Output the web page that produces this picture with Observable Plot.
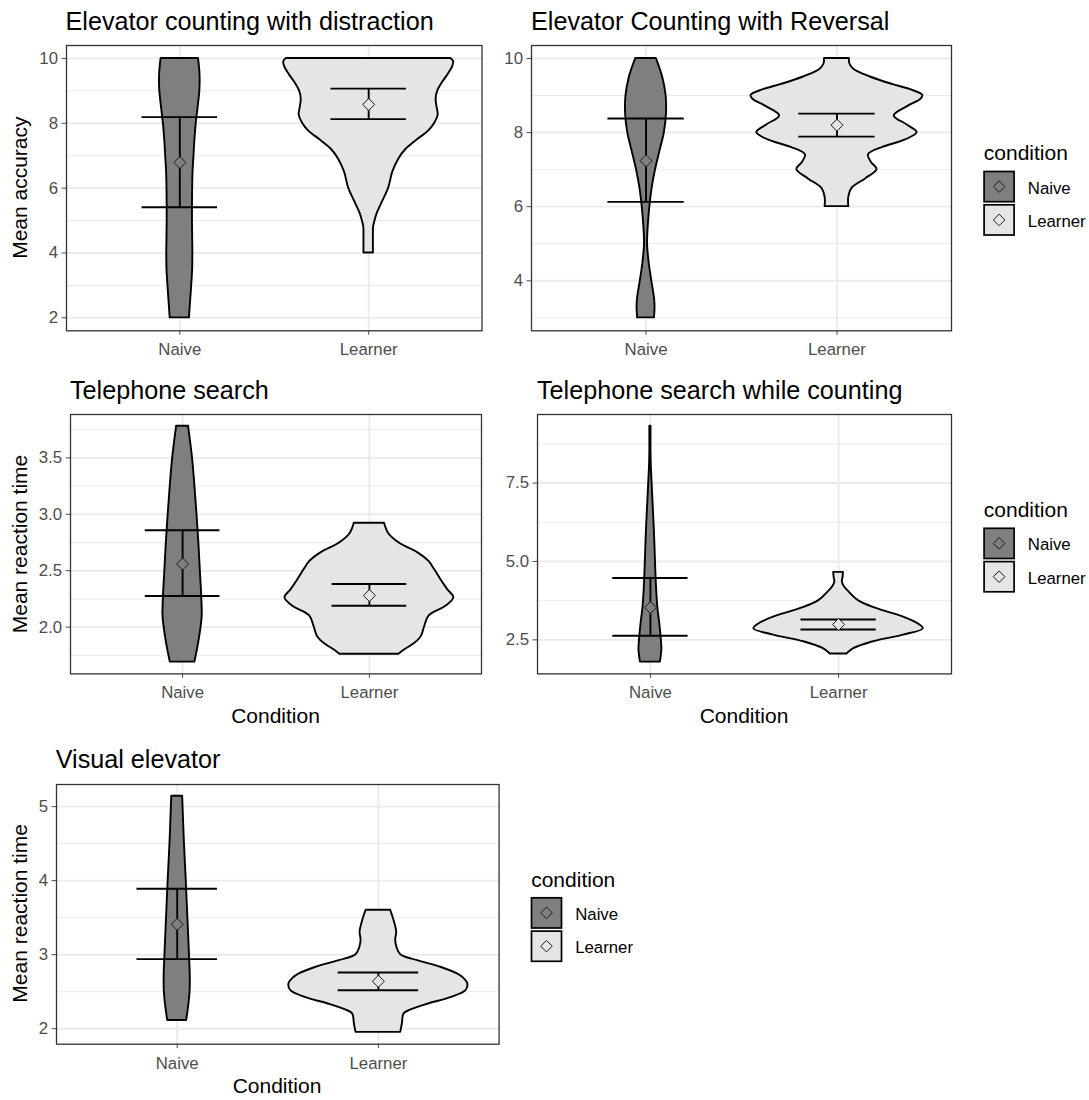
<!DOCTYPE html>
<html>
<head>
<meta charset="utf-8">
<script src="https://cdn.jsdelivr.net/npm/d3@7"></script>
<script src="https://cdn.jsdelivr.net/npm/@observablehq/plot@0.6"></script>
<style>
  html, body { margin: 0; padding: 0; background: #ffffff; }
  #root { position: relative; width: 1089px; height: 1100px; background: #ffffff; overflow: hidden;
          font-family: "Liberation Sans", Arial, sans-serif; }
</style>
</head>
<body>
<div id="root"></div>
<script>
// ---------------- data ----------------
const conditions = ["Naive", "Learner"];
const conditionFills = ["#7F7F7F", "#E5E5E5"];

// violin outlines: [value, half-width in category units]
const distractionNaive = [[2.0,.051],[2.5,.057],[3.0,.063],[3.5,.068],[4.0,.069],[4.5,.068],[5.0,.067],[5.5,.067],[6.0,.068],[6.5,.07],[7.0,.075],[7.5,.08],[8.0,.087],[8.5,.097],[9.0,.106],[9.5,.107],[10.0,.099]];
const distractionLearner = [[4.0,.025],[4.5,.025],[4.8,.026],[5.0,.034],[5.2,.044],[5.6,.075],[6.0,.106],[6.5,.128],[6.9,.16],[7.2,.198],[7.5,.26],[7.75,.316],[8.0,.35],[8.25,.368],[8.5,.362],[8.75,.357],[9.0,.366],[9.25,.39],[9.5,.42],[9.75,.445],[9.9,.45],[10.0,.436]];
const distractionMean = [6.79, 8.58];
const distractionLow = [5.41, 8.13];
const distractionHigh = [8.19, 9.07];

const reversalNaive = [[3.0,.044],[3.25,.047],[3.5,.045],[4.0,.03],[4.5,.016],[5.0,.008],[5.5,.012],[6.0,.02],[6.5,.032],[7.0,.05],[7.5,.073],[8.0,.096],[8.5,.107],[9.0,.105],[9.5,.087],[10.0,.054]];
const reversalLearner = [[6.0,.062],[6.25,.062],[6.5,.08],[6.75,.15],[7.0,.21],[7.2,.18],[7.4,.165],[7.6,.24],[7.8,.36],[8.0,.42],[8.2,.37],[8.45,.30],[8.7,.37],[8.9,.44],[9.0,.45],[9.15,.39],[9.3,.29],[9.5,.175],[9.7,.09],[9.85,.068],[10.0,.065]];
const reversalMean = [7.24, 8.20];
const reversalLow = [6.13, 7.89];
const reversalHigh = [8.38, 8.51];

const telephoneNaive = [[1.69,.066],[1.85,.085],[2.0,.099],[2.1,.105],[2.25,.103],[2.5,.095],[2.75,.087],[3.0,.077],[3.25,.066],[3.5,.053],[3.78,.032]];
const telephoneLearner = [[1.76,.158],[1.8,.19],[1.83,.22],[1.88,.26],[1.92,.279],[2.01,.297],[2.1,.32],[2.185,.41],[2.26,.452],[2.33,.42],[2.42,.383],[2.51,.349],[2.58,.32],[2.66,.258],[2.745,.16],[2.83,.103],[2.92,.081]];
const telephoneMean = [2.56, 2.28];
const telephoneLow = [2.276, 2.19];
const telephoneHigh = [2.859, 2.382];

const countingNaive = [[1.79,.053],[2.0,.058],[2.2,.061],[2.5,.058],[3.0,.05],[3.5,.04],[4.0,.034],[4.5,.03],[5.0,.027],[6.0,.021],[6.75,.015],[7.5,.009],[8.0,.005],[8.5,.003],[9.0,.003],[9.31,.003]];
const countingLearner = [[2.05,.044],[2.22,.081],[2.43,.18],[2.65,.345],[2.85,.45],[3.0,.426],[3.25,.335],[3.5,.2],[3.75,.105],[4.0,.06],[4.2,.03],[4.35,.02],[4.5,.024],[4.65,.026]];
const countingMean = [3.53, 2.99];
const countingLow = [2.63, 2.83];
const countingHigh = [4.47, 3.15];

const visualNaive = [[2.11,.047],[2.3,.057],[2.5,.064],[2.7,.065],[3.0,.061],[3.5,.053],[4.0,.045],[4.5,.036],[5.0,.029],[5.14,.027]];
const visualLearner = [[1.95,.111],[2.06,.119],[2.2,.128],[2.25,.16],[2.33,.244],[2.42,.36],[2.51,.434],[2.6,.445],[2.68,.425],[2.74,.393],[2.83,.31],[2.92,.194],[3.0,.111],[3.1,.092],[3.2,.086],[3.3,.091],[3.45,.079],[3.6,.061]];
const visualMean = [3.41, 2.64];
const visualLow = [2.94, 2.52];
const visualHigh = [3.89, 2.76];

// tick labels / breaks
const accuracyTicks = [2, 4, 6, 8, 10];
const accuracyMinor = [3, 5, 7, 9];
const reversalTicks = [4, 6, 8, 10];
const telephoneTicks = [2.0, 2.5, 3.0, 3.5];
const telephoneMinor = [1.75, 2.25, 2.75, 3.25, 3.75];
const countingTicks = [2.5, 5.0, 7.5];
const countingMinor = [3.75, 6.25, 8.75];
const visualTicks = [2, 3, 4, 5];
const visualMinor = [2.5, 3.5, 4.5];

const titles = ["Elevator counting with distraction", "Elevator Counting with Reversal", "Telephone search", "Telephone search while counting", "Visual elevator"];

// ---------------- layout ----------------
const FONT = '"Liberation Sans", Arial, sans-serif';
const panels = [
  {title: titles[0], violins: [distractionNaive, distractionLearner], mean: distractionMean, low: distractionLow, high: distractionHigh,
   ticks: accuracyTicks, minor: accuracyMinor, fmt: null, ylabel: "Mean accuracy", xlabel: null,
   frame: {left: 65.5, top: 45, width: 415.5, height: 285.3}},
  {title: titles[1], violins: [reversalNaive, reversalLearner], mean: reversalMean, low: reversalLow, high: reversalHigh,
   ticks: reversalTicks, minor: accuracyMinor, fmt: null, ylabel: null, xlabel: null,
   frame: {left: 531, top: 45, width: 420, height: 285.3}},
  {title: titles[2], violins: [telephoneNaive, telephoneLearner], mean: telephoneMean, low: telephoneLow, high: telephoneHigh,
   ticks: telephoneTicks, minor: telephoneMinor, fmt: ".1f", ylabel: "Mean reaction time", xlabel: "Condition",
   frame: {left: 70, top: 414.3, width: 411, height: 259.4}},
  {title: titles[3], violins: [countingNaive, countingLearner], mean: countingMean, low: countingLow, high: countingHigh,
   ticks: countingTicks, minor: countingMinor, fmt: ".1f", ylabel: null, xlabel: "Condition",
   frame: {left: 537, top: 414.3, width: 414, height: 259.4}},
  {title: titles[4], violins: [visualNaive, visualLearner], mean: visualMean, low: visualLow, high: visualHigh,
   ticks: visualTicks, minor: visualMinor, fmt: null, ylabel: "Mean reaction time", xlabel: "Condition",
   frame: {left: 55.7, top: 783.5, width: 442.6, height: 259.7}}
];
const legends = [
  {x: 983.3, y: 170.7},
  {x: 983.3, y: 527.5},
  {x: 530.7, y: 897}
];

const root = document.getElementById("root");

panels.forEach(p => {
  const mL = 52, mR = 6, mT = 6, mB = 36;
  const rows = [];
  p.violins.forEach((v, i) => v.forEach(([y, w]) => rows.push({cond: conditions[i], pos: i + 1, y, w})));
  const stats = conditions.map((c, i) => ({cond: c, pos: i + 1, mean: p.mean[i], low: p.low[i], high: p.high[i]}));
  const [lo, hi] = d3.extent(rows.map(d => d.y).concat(p.low, p.high));
  const pad = (hi - lo) * 0.05;
  const yDomain = [lo - pad, hi + pad];
  const minor = p.minor.filter(v => v >= yDomain[0] && v <= yDomain[1]);

  const chart = Plot.plot({
    width: p.frame.width + mL + mR,
    height: p.frame.height + mT + mB,
    marginLeft: mL, marginRight: mR, marginTop: mT, marginBottom: mB,
    style: {fontFamily: FONT, fontSize: "16.8px", color: "#4D4D4D", background: "transparent", overflow: "visible"},
    x: {domain: [0.4, 2.6], ticks: [1, 2], tickFormat: d => conditions[d - 1], tickSize: 4.5, tickPadding: 8, label: null},
    y: {domain: yDomain, ticks: p.ticks, tickFormat: p.fmt ? d3.format(p.fmt) : d => String(d), tickSize: 4.5, tickPadding: 4, label: null},
    color: {domain: conditions, range: conditionFills},
    marks: [
      Plot.ruleY(minor, {stroke: "#EBEBEB", strokeWidth: 1}),
      Plot.ruleY(p.ticks, {stroke: "#EBEBEB", strokeWidth: 1.9}),
      Plot.ruleX([1, 2], {stroke: "#EBEBEB", strokeWidth: 1.9}),
      Plot.areaX(rows, {y: "y", x1: d => d.pos - d.w, x2: d => d.pos + d.w, z: "cond", fill: "cond",
                        stroke: "#000", strokeWidth: 1.9, strokeLinejoin: "round", curve: "catmull-rom"}),
      Plot.ruleY(stats, {y: "high", x1: d => d.pos - 0.2, x2: d => d.pos + 0.2, stroke: "#000", strokeWidth: 1.9}),
      Plot.ruleY(stats, {y: "low", x1: d => d.pos - 0.2, x2: d => d.pos + 0.2, stroke: "#000", strokeWidth: 1.9}),
      Plot.ruleX(stats, {x: "pos", y1: "low", y2: "high", stroke: "#000", strokeWidth: 1.9}),
      Plot.dot(stats, {x: "pos", y: "mean", symbol: "diamond2", r: 5.4, fill: "cond", stroke: "#1a1a1a", strokeWidth: 1}),
      Plot.frame({stroke: "#333333", strokeWidth: 1.3})
    ]
  });
  chart.style.position = "absolute";
  chart.style.left = (p.frame.left - mL) + "px";
  chart.style.top = (p.frame.top - mT) + "px";
  root.appendChild(chart);
});

// ---------------- titles, axis titles and legends ----------------
const overlay = d3.create("svg")
  .attr("width", 1089).attr("height", 1100)
  .style("position", "absolute").style("left", "0px").style("top", "0px")
  .style("pointer-events", "none")
  .style("font-family", FONT);

panels.forEach(p => {
  const f = p.frame;
  overlay.append("text").attr("x", f.left).attr("y", f.top - 15.3)
    .attr("font-size", 25.2).attr("fill", "#000").text(p.title);
  if (p.ylabel) {
    overlay.append("text")
      .attr("transform", `translate(27,${f.top + f.height / 2}) rotate(-90)`)
      .attr("text-anchor", "middle").attr("font-size", 21).attr("fill", "#000").text(p.ylabel);
  }
  if (p.xlabel) {
    overlay.append("text").attr("x", f.left + f.width / 2).attr("y", f.top + f.height + 49.6)
      .attr("text-anchor", "middle").attr("font-size", 21).attr("fill", "#000").text(p.xlabel);
  }
});

const diamond = d3.symbol(d3.symbolDiamond2, 85)();
legends.forEach(L => {
  overlay.append("text").attr("x", L.x + 0.5).attr("y", L.y - 10.5)
    .attr("font-size", 21).attr("fill", "#000").text("condition");
  conditions.forEach((c, i) => {
    const top = L.y + i * 33.3;
    overlay.append("rect").attr("x", L.x + 0.8).attr("y", top + 0.8).attr("width", 30).attr("height", 30.2)
      .attr("fill", conditionFills[i]).attr("stroke", "#000").attr("stroke-width", 1.7);
    overlay.append("path").attr("d", diamond)
      .attr("transform", `translate(${L.x + 15.8},${top + 15.9})`)
      .attr("fill", conditionFills[i]).attr("stroke", "#1a1a1a").attr("stroke-width", 1);
    overlay.append("text").attr("x", L.x + 44.5).attr("y", top + 15.9 + 7)
      .attr("font-size", 16.8).attr("fill", "#000").text(c);
  });
});

root.appendChild(overlay.node());
</script>
</body>
</html>
